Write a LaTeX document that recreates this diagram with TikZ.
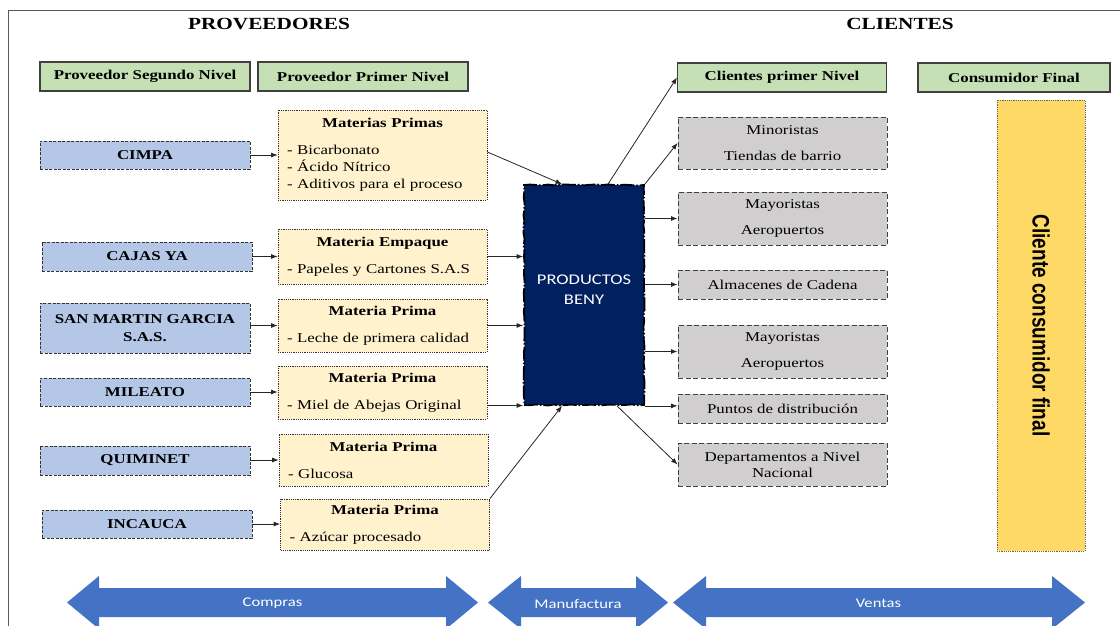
\documentclass[tikz,border=0pt]{standalone}
\usepackage{fontspec}
\setmainfont{Liberation Serif}[FakeStretch=1.25]
\newfontfamily\calibri{Carlito}[FakeStretch=1.25]
\newfontfamily\arialsans{Liberation Sans}
\usetikzlibrary{arrows.meta,decorations.pathmorphing}

\definecolor{hdrgreen}{HTML}{C5E0B4}
\definecolor{supblue}{HTML}{B4C7E7}
\definecolor{matyellow}{HTML}{FFF2CC}
\definecolor{cligray}{HTML}{D0CECE}
\definecolor{benynavy}{HTML}{002060}
\definecolor{consgold}{HTML}{FFD966}
\definecolor{stageblue}{HTML}{4472C4}

\begin{document}
\begin{tikzpicture}[x=1pt,y=-1pt,
    title/.style={font=\fontsize{17}{20}\selectfont\bfseries},
    header/.style={draw=black!75, line width=1.1pt, fill=hdrgreen, inner sep=0pt,
        minimum height=29pt, font=\fontsize{13.5}{16}\selectfont\bfseries},
    supbox/.style={draw=black!80, line width=0.8pt, dash pattern=on 3pt off 1.5pt,
        fill=supblue, inner sep=0pt, minimum width=210pt, align=center,
        font=\fontsize{13.5}{18}\selectfont\bfseries},
    matbox/.style={draw=black!80, line width=0.8pt, dash pattern=on 1.2pt off 1pt,
        fill=matyellow, inner xsep=9pt, inner ysep=0pt, text width=191pt, align=left,
        font=\fontsize{13.5}{17}\selectfont},
    clibox/.style={draw=black!75, line width=0.9pt, dash pattern=on 5pt off 2.5pt,
        fill=cligray, inner sep=0pt, minimum width=209pt, align=center,
        font=\fontsize{13.5}{16}\selectfont},
    beny/.style={fill=benynavy, draw=black, line width=1.8pt,
        dash pattern=on 14pt off 2pt on 1.5pt off 2pt,
        decorate, decoration={random steps, segment length=6pt, amplitude=0.6pt},
        minimum width=120pt, minimum height=220pt, inner sep=0pt},
    benytext/.style={text=white, align=center, font=\calibri\fontsize{14.8}{20}\selectfont},
    stagearrow/.style={fill=stageblue},
    stagetext/.style={text=white, font=\calibri\fontsize{13.3}{16}\selectfont},
    link/.style={line width=0.8pt, black!85, -{Latex[length=6.5pt,width=5pt]}}
  ]
    \clip (0,0) rectangle (1120,626);
    \coordinate (FrameBL) at (8,626);
    \coordinate (FrameTL) at (8,11);
    \coordinate (FrameTR) at (1120,11);
    \draw [line width=1pt, black!65] (FrameBL) -- (FrameTL) -- (FrameTR);% outer frame

    \node[title] (prov) at (269,24) {PROVEEDORES};
    \node[title] (cli) at (900,24) {CLIENTES};

    % column headers
    \node[header, minimum width=210pt] (hdrSeg) at (145,76.5) {Proveedor Segundo Nivel};
    \node[header, minimum width=210pt] (hdrPri) at (363,76.5) {Proveedor Primer Nivel};
    \node[header, minimum width=209pt] (hdrCli) at (782,77.5) {Clientes primer Nivel};
    \node[header, minimum width=192pt] (hdrCon) at (1014,77.5) {Consumidor Final};

    % second level suppliers
    \node[supbox, minimum height=28pt] (cimpa) at (145,155) {CIMPA};
    \node[supbox, minimum height=29pt] (cajas) at (147,256.5) {CAJAS YA};
    \node[supbox, minimum height=50pt] (sanmartin) at (145,328) {SAN MARTIN GARCIA\\S.A.S.};
    \node[supbox, minimum height=28pt] (mileato) at (145,392) {MILEATO};
    \node[supbox, minimum height=29pt] (quiminet) at (145,460.5) {QUIMINET};
    \node[supbox, minimum height=28pt] (incauca) at (147,524) {INCAUCA};

    % first level suppliers
    \node[matbox, minimum height=90pt] (mp1) at (382.5,155)
        {{\centering\bfseries Materias Primas\par}\vspace{10pt}- Bicarbonato\\- Ácido Nítrico\\- Aditivos para el proceso};
    \node[matbox, minimum height=55pt] (mp2) at (382.5,256.5)
        {{\centering\bfseries Materia Empaque\par}\vspace{10pt}- Papeles y Cartones S.A.S};
    \node[matbox, minimum height=53pt] (mp3) at (382.5,325.5)
        {{\centering\bfseries Materia Prima\par}\vspace{10pt}- Leche de primera calidad};
    \node[matbox, minimum height=53pt] (mp4) at (382.5,392.5)
        {{\centering\bfseries Materia Prima\par}\vspace{10pt}- Miel de Abejas Original};
    \node[matbox, minimum height=52pt] (mp5) at (383.5,460)
        {{\centering\bfseries Materia Prima\par}\vspace{10pt}- Glucosa};
    \node[matbox, minimum height=51pt] (mp6) at (385,524.5)
        {{\centering\bfseries Materia Prima\par}\vspace{10pt}- Azúcar procesado};

    \node[beny] (beny) at (584,295) {};
    \node[benytext] (benyname) at (584,290) {PRODUCTOS\\BENY};

    % first level clients
    \node[clibox, minimum height=52pt] (g1) at (782.5,143) {Minoristas\\[10pt]Tiendas de barrio};
    \node[clibox, minimum height=53pt] (g2) at (782.5,218.5) {Mayoristas\\[10pt]Aeropuertos};
    \node[clibox, minimum height=29pt] (g3) at (782.5,284.5) {Almacenes de Cadena};
    \node[clibox, minimum height=53pt] (g4) at (782.5,351.5) {Mayoristas\\[10pt]Aeropuertos};
    \node[clibox, minimum height=29pt] (g5) at (782.5,408.5) {Puntos de distribución};
    \node[clibox, minimum height=43pt] (g6) at (782.5,464.5) {Departamentos a Nivel\\Nacional};

    \node[draw=black!60, line width=0.7pt, dash pattern=on 1.2pt off 1pt, fill=consgold,
        rotate=-90, minimum width=451pt, minimum height=88pt, inner sep=0pt,
        font=\arialsans\bfseries\fontsize{19}{22}\selectfont] (cons) at (1041,325.5)
        {\scalebox{1}[1.25]{Cliente consumidor final}};

    % suppliers to materials
    \draw[link] (cimpa.east) -- (cimpa.east -| mp1.west);
    \draw[link] (cajas.east) -- (cajas.east -| mp2.west);
    \draw[link] (mp3.west -| sanmartin.east) -- (mp3.west);
    \draw[link] (mileato.east) -- (mileato.east -| mp4.west);
    \draw[link] (mp5.west -| quiminet.east) -- (mp5.west);
    \draw[link] (incauca.east) -- (incauca.east -| mp6.west);

    % materials to factory
    \draw[link] ([yshift=3pt]mp1.east) -- ([xshift=-22pt]beny.north);
    \draw[link] (mp2.east) -- (mp2.east -| beny.west);
    \draw[link] (mp3.east) -- (mp3.east -| beny.west);
    \draw[link] ([yshift=-13pt]mp4.east) -- ([yshift=-13pt]mp4.east -| beny.west);
    \draw[link] (mp6.north east) -- ([xshift=-22pt]beny.south);

    % factory to clients
    \draw[link] ([xshift=24pt]beny.north) -- (hdrCli.west);
    \draw[link] (beny.north east) -- (g1.west);
    \draw[link] (beny.east |- g2.west) -- (g2.west);
    \draw[link] (beny.east |- g3.west) -- (g3.west);
    \draw[link] (beny.east |- g4.west) -- (g4.west);
    \draw[link] (beny.south east) -- (beny.south east -| g5.west);
    \draw[link] ([xshift=33pt]beny.south) -- (g6.west);

    % stages
    \fill[stagearrow] (67,602.5) -- (99,576) -- (99,588) -- (446,588) -- (446,576) -- (478,602.5)
        -- (446,629) -- (446,617) -- (99,617) -- (99,629) -- cycle;
    \fill[stagearrow] (488,602.5) -- (521,576) -- (521,588) -- (636,588) -- (636,576) -- (668,602.5)
        -- (636,629) -- (636,617) -- (521,617) -- (521,629) -- cycle;
    \fill[stagearrow] (673,602.5) -- (706,576) -- (706,588) -- (1052,588) -- (1052,576) -- (1085,602.5)
        -- (1052,629) -- (1052,617) -- (706,617) -- (706,629) -- cycle;
    \node[stagetext] (compras) at (272.5,603) {Compras};
    \node[stagetext] (manuf) at (578,604) {Manufactura};
    \node[stagetext] (ventas) at (878.5,603) {Ventas};
\end{tikzpicture}
\end{document}
